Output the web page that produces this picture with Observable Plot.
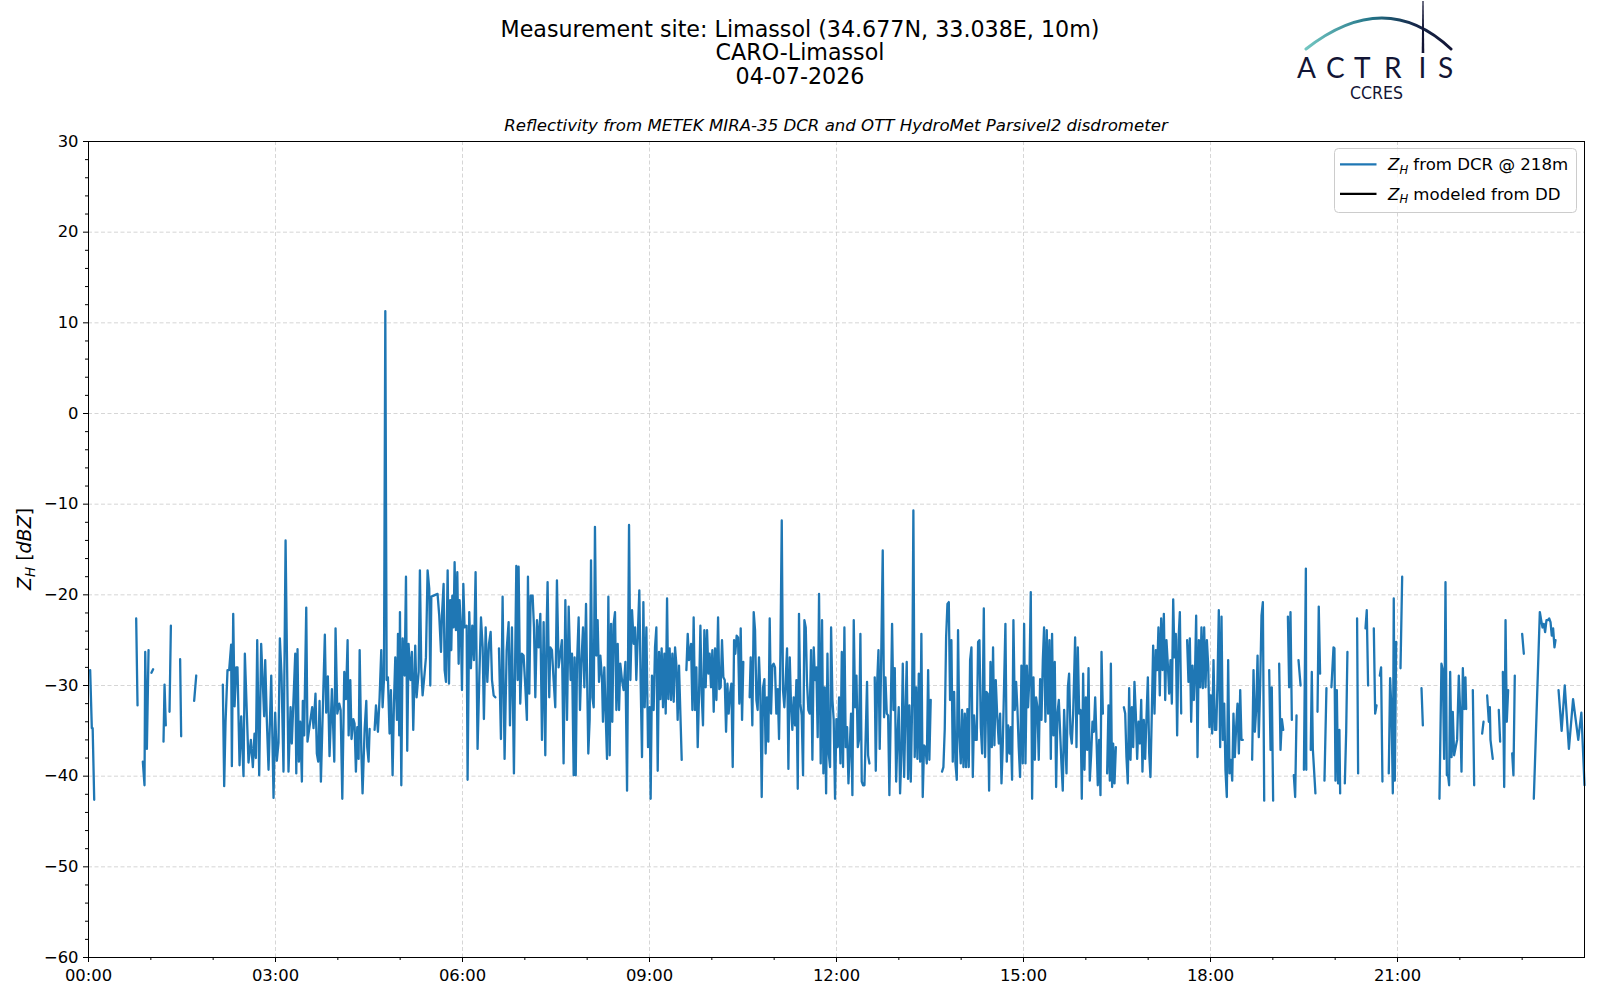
<!DOCTYPE html>
<html><head><meta charset="utf-8">
<script src="https://cdn.jsdelivr.net/npm/d3@7"></script>
<script src="https://cdn.jsdelivr.net/npm/@observablehq/plot@0.6"></script>
<style>
html,body{margin:0;padding:0;background:#fff;}
#fig{position:relative;width:1600px;height:1000px;overflow:hidden;font-family:"DejaVu Sans",sans-serif;}
#fig svg.overlay{position:absolute;left:0;top:0;pointer-events:none;}
#fig svg.chart{position:absolute;left:0;top:0;}
</style></head><body><div id="fig"></div>
<script>
// ---------------- data ----------------
const titleLines = ["Measurement site: Limassol (34.677N, 33.038E, 10m)", "CARO-Limassol", "04-07-2026"];
const subtitle = "Reflectivity from METEK MIRA-35 DCR and OTT HydroMet Parsivel2 disdrometer";
const legendRest = [" from DCR @ 218m", " modeled from DD"];
const xMajorTicks = [0, 180, 360, 540, 720, 900, 1080, 1260];
const xTickLabels = ["00:00", "03:00", "06:00", "09:00", "12:00", "15:00", "18:00", "21:00"];
const xMinorTicks = [60, 120, 240, 300, 420, 480, 600, 660, 780, 840, 960, 1020, 1140, 1200, 1320, 1380];
const yMajorTicks = [-60, -50, -40, -30, -20, -10, 0, 10, 20, 30];
const yMinorTicks = [-58,-56,-54,-52,-48,-46,-44,-42,-38,-36,-34,-32,-28,-26,-24,-22,-18,-16,-14,-12,-8,-6,-4,-2,2,4,6,8,12,14,16,18,22,24,26,28];
// DCR reflectivity samples: [minutes since 00:00, dBZ]; null = gap in the record
const dcrSamples = [
[1.6,-28.3],[3.2,-34.7],[4,-34.7],[5.5,-42.6],null,
[45.9,-22.6],[47.2,-32.2],null,
[52.3,-38.4],[53.9,-41],[54.6,-26.3],[56.2,-37],[57.8,-26.1],null,
[60.6,-28.6],[62.2,-28.2],null,
[72.2,-36.2],[73.2,-29.9],[74.4,-34.4],null,
[78,-32.9],[79.3,-23.4],null,
[88.2,-27.1],[89.2,-35.6],null,
[101.7,-31.7],[103.7,-28.9],null,
[129.3,-29.9],[130.6,-41.1],[131.9,-34.1],[133.8,-28.3],[135.4,-28.3],[137.3,-25.5],[138,-38.9],[139.3,-22.1],[140.6,-32.3],[142.2,-28],[143.4,-28],[145.4,-38.8],[147,-33.4],[149.2,-40],[150.5,-26.5],[154,-38.5],[156.3,-36],[158.2,-39],[159.8,-35.3],[161.1,-38],[162.4,-25],[164.3,-39.9],[166.2,-25.4],[169.1,-33.4],[170.1,-27.2],[171.7,-34],[173.3,-39.3],[175.9,-28.9],[178.1,-42.4],[179.7,-33],[181.3,-38.3],[182.9,-36.3],[184.2,-24.8],[185.8,-28.9],[187.7,-39.5],[189.7,-14],[191,-26.5],[192.5,-39.5],[194.5,-32.4],[195.7,-36.4],[199,-26.5],[200,-39.7],[201.2,-26],[202.5,-38.4],[203.8,-34],[205.4,-40.6],[206.3,-31.7],[207.6,-35.5],[209.6,-21.4],[210.8,-36.2],[215.3,-32.4],[216.6,-34.7],[218.5,-30.9],[219.8,-37.5],[221.1,-38.4],[222.4,-31.7],[223.7,-40.6],[225,-35],[227.5,-24.4],[228.8,-33],[230.4,-29],[232,-37.8],
[234.3,-30.4],[236.6,-38.4],[237.8,-23.7],[239.5,-33.1],[241.4,-32],[242.7,-32.7],[244.3,-42.5],[246.2,-28.5],[247.8,-31.5],[249.4,-25],[250.4,-35.5],[252,-29.4],[253.2,-35.9],[254.9,-33.7],[256.1,-34.2],[257.4,-39.5],[258.7,-34.6],[260,-38.1],[261,-26.1],[262.6,-37.2],[263.8,-41.9],[265.8,-34.8],[267.4,-31.7],[268.3,-36.8],[269.6,-38.4],[270.6,-34.8],null,
[275.4,-34.9],[276.7,-32.2],[278.6,-35.1],[280.2,-31.3],[281.8,-26.1],[283.1,-32.4],[284.4,-29.4],[285.7,11.3],[287,-29.4],[288.2,-29.1],[289.8,-35.3],[291.1,-30.5],[292.7,-39.9],[294,-32],[295.3,-26.9],[296.9,-33.8],[297.9,-24.3],[299.1,-35.5],[299.8,-21.9],[301.1,-41],[302.4,-24.8],[304.3,-28.9],[305.6,-18],[306.8,-37.2],[308.1,-25.4],[310,-29.4],[311.3,-26.3],[312.6,-34.9],[314.5,-25.6],[315.8,-31.3],[317.8,-28.5],[319,-17.3],[320.3,-28],[321.6,-31.1],[323.5,-28.7],[324.8,-26.9],[326.4,-17.3],[328,-19.3],[329,-30],[330,-20.2],[336,-19.9],[337.6,-22.3],[339.3,-26.3],[340.2,-22.3],[341.8,-18.8],[342.8,-28.3],[344.1,-29.6],[345.7,-17.3],[347,-29.8],[348.2,-20.6],[349.2,-26.1],[350.2,-20.1],[351.4,-23.6],[352.4,-16.4],[353.7,-23.9],[355,-17.5],[356.3,-27.6],[357.2,-20.6],[358.5,-23.9],[359.5,-30.5],[360.8,-18.8],[362,-23.6],[364,-23.4],[364.9,-40.4],[366.5,-21.9],[368.1,-28.1],[369.4,-23.4],[371,-27.2],[372.6,-17.5],[374.5,-37],[376.2,-29.1],[377.8,-22.5],[379.4,-25.8],[380.6,-33.7],[382.3,-23.6],[383.9,-29.6],[385.5,-25.4],[387.1,-24.1],[388.4,-29.4],[390,-31.1],[391.6,-31.3],null,
[395.1,-25.9],[397,-35.9],[398.6,-20.2],[400.5,-38.1],[402.5,-26.1],[404.4,-23],[405.7,-34.4],[407.6,-23.6],[409.5,-39.7],[410.8,-26.1],[411.8,-16.8],[413.1,-29.4],[414,-16.9],[415.6,-32],[417.2,-26.5],[418.8,-26.7],[420.4,-30],[422,-33.8],[423,-18],[424.3,-30.9],[425.6,-20.1],[427.5,-20.1],[428.8,-23.6],[430.1,-31.3],[431.7,-22.8],[433.3,-25.8],[434.9,-22.1],[436.5,-36],[438.1,-23],[439.7,-37.7],[441,-23.6],[441.9,-18.6],[443.5,-31.3],[444.5,-25.8],[446.1,-26.1],[447.7,-29.4],[449.3,-32.4],[450.9,-18.4],[452.5,-28],[455.7,-25],[457.3,-38.6],[459,-20.6],[460.6,-33.8],[462.2,-21.3],[464.1,-29.4],[465.4,-26.5],[467,-39.9],[467.9,-26.9],
[469,-39.9],[470.2,-27.6],[471.8,-22.5],[473.1,-32.7],[474.4,-27.6],[476,-23.6],[477.3,-30.2],[478.9,-21],[479.8,-28],[481.1,-37.5],[482.4,-33.8],[483.7,-16.2],[485,-31.3],[486.3,-32.4],[487.5,-12.5],[488.8,-26.7],[490.1,-22.8],[491.4,-29.6],[492.7,-26.7],[494.3,-29.3],[495.2,-34],[496.5,-28],[497.8,-33.1],[499.1,-38.1],[500.4,-20.2],[501.7,-37.7],[503,-23.2],[504.2,-34],[505.5,-23.2],[506.8,-21.9],[508.1,-32.7],[509.4,-25.4],[510.7,-32.7],[511.9,-27.6],[513.5,-29.4],[515.1,-30.5],[516.8,-27.4],[518.4,-41.6],[520.3,-12.3],[521.6,-29.4],[523.2,-21.7],[524.8,-25.4],[526.1,-23.6],[527.3,-29.4],[529,-23.6],[530.2,-19.5],[531.5,-29.8],[532.8,-37.9],[534.1,-20.8],[535.4,-32.4],[537,-23.6],[538.6,-36.8],[540.2,-32.4],[541.1,-42.5],[542.4,-28.9],[544,-32.7],[545.3,-25.8],[546.6,-23.6],[547.9,-39.4],[549.2,-26.3],[550.4,-31.5],[551.7,-25.9],[553,-32.4],[554.3,-26.5],[555.6,-33.1],[556.9,-20.4],[558.1,-31.5],[559.4,-25.9],[560.7,-31.6],[562,-26.5],[563.3,-31.8],[564.6,-25.8],[565.8,-27.6],[567.1,-33.8],[568.4,-27.8],[571,-38.2],null,
[575.5,-28.3],[576.8,-24.3],[578,-27.2],[580,-25.4],[581.3,-32.7],[582.5,-22.5],[583.8,-32.7],[585.1,-28],[586.4,-36.8],[587.7,-30.9],[589,-23.4],[590.2,-30.9],[591.5,-34.4],[592.8,-23.9],[594.1,-30.2],[595.4,-23.9],[596.7,-28.7],[597.9,-26.5],[599.2,-30.2],[600.5,-26.1],[601.8,-32.9],[603.1,-25.9],[604.4,-31.6],[606,-22.5],[607.2,-30.4],[608.5,-30.2],[609.8,-25],[611.1,-29.1],[612.4,-29.4],[613.7,-35.1],[615,-29.8],[616.2,-33.1],[617.5,-30.9],[618.8,-29.8],[620.1,-39],[621.4,-25],[622.6,-26.5],[623.9,-24.5],[625.2,-24.7],[626.5,-32],[627.8,-23.7],[629.1,-33.8],[630.3,-27.4],null,
[636.4,-31.3],[637.4,-26.9],[639,-34.4],[640.3,-21.9],[641.6,-23.9],[642.9,-31.6],[644.1,-32.7],[645.4,-26.9],[646.7,-30.9],[648,-42.3],[649.3,-30.2],[650.6,-29.3],[651.8,-37.5],[653.1,-31.3],[654.4,-36.2],[655.7,-22.6],[657,-33.1],[658.3,-27.8],[659.5,-27.6],[660.8,-28],[662.1,-33.1],[663.4,-30.4],[664.7,-35.9],[666,-26.5],[667.3,-11.8],[668.5,-30.5],[669.8,-32.4],[671.1,-29.3],[672.4,-25.9],[673.7,-39.2],[675,-26.9],[676.2,-32],[677.5,-34.9],[678.8,-31.3],[680.1,-34.4],[681.4,-29.4],[682.7,-41.4],[683.9,-22.1],[685.2,-32],[686.5,-33.3],[687.8,-39.9],[689.1,-22.8],[690.4,-23.6],[691.6,-29.6],[692.9,-32.7],[694.2,-33.1],[695.5,-26.1],[696.8,-38.2],[698.1,-25.8],[699.3,-29.4],[700.6,-28],[701.9,-35.7],[703.2,-19.9],
[704.8,-38.6],[706.1,-22.8],[707.4,-39.7],[708.7,-30.2],[710,-41.9],[711.3,-26.5],[712.5,-37.5],[713.8,-39],[714.8,-23.6],[716.1,-31.6],[717.3,-33.8],[718.6,-42.5],[719.9,-33.7],[721.2,-36.8],[722.5,-31.3],[723.8,-38.6],[725.1,-26.3],[726.3,-39],[727.6,-23.6],[728.9,-36.8],[730.2,-34.6],[731.5,-40.8],[732.8,-36.8],[734,-33.1],[735.3,-42.1],[736.6,-22.8],[737.9,-32.4],[739.2,-28.9],[740.5,-36.8],[741.7,-36],[743,-24.3],[744.3,-40.6],[745.6,-41],[746.9,-41],[749.4,-29.6],[750.4,-37.7],[751.7,-38.6],null,
[756.8,-29.1],[757.8,-39.4],[759.1,-29.8],[760.4,-26.1],[761.6,-37],[762.9,-28],[764.5,-15.1],[765.8,-33.5],[767.1,-29.1],[768.4,-33.1],[769.7,-33.3],[770.9,-42.1],[772.2,-33.1],[773.5,-23.2],[774.8,-32.7],[776.1,-28.1],[777.4,-40.6],[778.6,-36],[779.9,-32.4],[781.2,-41.9],[782.5,-37.5],[783.8,-27.6],[785.1,-40.1],[786.3,-33.3],[787.6,-27.4],[788.9,-40.3],[790.2,-32.2],[791.5,-40.6],[792.8,-32.2],[794,-10.7],[795.3,-37.9],[796.6,-30.2],[797.9,-38.1],[799.2,-28.7],[800.5,-38.4],[801.7,-24.3],[803,-42.3],[804.3,-36.6],[805.6,-36.8],[806.9,-38.6],[808.2,-28.3],[809.4,-38.2],[810.7,-31.6],null,
[821.6,-39.5],[822.9,-39],[824.2,-34.8],[825.5,-24.7],[826.8,-21],[828.1,-20.8],[829.3,-31.6],[830.6,-25],[831.9,-38.4],[833.2,-30.7],[834.5,-38.6],[835.8,-40.4],[837,-23.9],[838.3,-35.5],[839.6,-38.6],[840.9,-32.7],[842.2,-39],[843.5,-33.1],[844.7,-39],[846,-32.6],[847.3,-39],[848.6,-27.2],[849.9,-25.8],[851.2,-40.1],[852.4,-33.3],[853.7,-36],[855,-36],[856.3,-25.2],[857.6,-25],[858.9,-34.6],[860.2,-37.5],[861.8,-21.5],[863,-37.9],[864.3,-30.7],[865.6,-30.9],[866.9,-41.6],[868.2,-27.4],[869.5,-36.8],[870.7,-25.8],[872,-36.6],[873.3,-29.4],[874.6,-33.1],[876.2,-36.4],[877.5,-33.1],[878.8,-40.8],[880,-36.8],[881.3,-30],[882.6,-23.2],[883.9,-38.4],[885.2,-34.4],[886.5,-37.5],[887.7,-34.6],[889,-40.4],[890.3,-22.8],[891.6,-32.7],[892.9,-29.6],[894.2,-32.7],[895.4,-36.8],[896.7,-40.1],[898,-27.8],[899.3,-38.6],[900.6,-23.2],[901.9,-38.6],[903.2,-27.8],[904.4,-32.4],[905.7,-29.1],[907,-19.7],[908.3,-42.5],[909.6,-29.1],[910.9,-38.2],[912.1,-31.3],[913.4,-32.4],[914.7,-38.2],[916,-29.3],[917.3,-33.8],[918.6,-27.2],[919.8,-23.6],[921.1,-34],[922.4,-23.9],[923.7,-33.1],[925,-25],[926.3,-38.1],[927.5,-24.3],[928.8,-35.5],[930.1,-27.4],[931.4,-41.2],[932.7,-33.1],[934,-31.6],[936.5,-38.6],[937.8,-41.6],[939.1,-32.7],
[941.4,-39.7],[942.7,-30.2],[943.9,-28.7],[945.2,-35.3],[946.5,-36.4],[947.8,-33.1],[949.7,-24.7],[951,-36.8],[952.3,-25.8],[953.6,-33.1],[954.9,-32.7],[956.1,-42.5],[957.4,-28.7],[958.7,-39.3],[960,-31.3],[961.3,-37.1],[962.6,-28.1],[963.8,-40.5],[965.1,-37.7],[966.4,-34],[967.7,-35.1],[969,-31.3],[970.3,-36],[971.5,-41],[972.8,-36],[974.1,-42.1],[975.1,-26.3],[976.4,-33.1],null,
[980.5,-39.7],[981.8,-32.2],[983.1,-40.5],[984.1,-27.6],[985.3,-41.2],[986.3,-36.4],[987.6,-40.8],[988.9,-36.8],null,
[996.6,-32.4],[997.9,-33.1],[999.1,-37.9],[1000.4,-40.8],[1001.7,-30.3],[1003,-38.2],[1004.3,-32.4],[1005.6,-36.8],[1006.8,-29.6],[1008.1,-33.1],[1009.4,-38.1],[1010.7,-34],[1012,-36.4],[1013.3,-31.6],[1014.5,-39.5],[1015.8,-33.8],[1017.1,-38.1],[1018.4,-33.5],[1019.7,-29.1],[1021,-37.5],[1022.2,-40.1],[1023.5,-33.1],[1024.8,-25.6],[1026.1,-33.1],[1027.4,-26.1],[1028.7,-28.3],[1029.9,-23.6],[1031.2,-31.1],[1032.5,-22.6],[1033.8,-28.3],[1035.1,-22.1],[1036.4,-31.6],[1037.6,-25],[1038.9,-27.6],[1040.2,-30.9],[1041.5,-27.2],[1042.8,-32],[1044.1,-20.5],[1045.3,-26.9],[1046.6,-24.3],[1047.9,-35.5],[1049.2,-25],[1050.5,-21.9],[1051.8,-33.1],null,
[1057.5,-25],[1058.8,-29.6],[1060.1,-24.8],[1061.4,-34],[1062.7,-27.8],[1064,-31.6],[1065.2,-28],[1066.2,-22.3],[1067.5,-37.9],[1068.8,-25],[1070.1,-30.2],[1071.3,-23.6],[1072.6,-30.3],[1073.9,-23.6],[1075.2,-30.2],[1076.5,-25],[1077.8,-27.8],[1079,-34.6],[1080.3,-31.1],[1081.6,-35.3],[1082.9,-27.2],[1084.2,-34.9],[1085.5,-34.9],[1086.7,-29.8],[1088,-21.7],[1089.3,-36.8],[1090.6,-22.4],[1091.9,-36],[1093.2,-32],[1094.4,-39.3],[1095.7,-42.3],[1097,-27.2],[1098.3,-39.7],[1099.6,-38.2],[1100.9,-40.5],[1102.1,-33.1],[1103.4,-37.9],[1104.7,-34.6],[1106,-32],[1107.3,-37.5],[1108.6,-30.5],[1109.8,-36],[1111.1,-36],null,
[1120.1,-38.2],[1121.4,-28.3],[1122.7,-35.1],[1124,-32.6],[1125.3,-26.7],[1126.5,-35.7],[1127.8,-30],[1129.1,-22.3],[1130.4,-20.8],[1131.7,-42.7],null,
[1136.5,-28.3],[1137.8,-37.1],[1139,-30.2],[1140.3,-42.7],null,
[1146.1,-27.6],[1147.4,-37.1],[1148.7,-33.7],[1150,-34.9],null,
[1154.5,-22.4],[1155.7,-30.2],[1157,-21.9],[1158.3,-33.8],null,
[1160.2,-39.9],[1161.5,-42.3],[1162.8,-33.3],null,
[1164.7,-27.2],[1166.7,-30],null,
[1169.9,-39.3],[1171.8,-17.1],[1172.2,-39.3],null,
[1176.5,-37.1],[1177.5,-28.5],[1178.5,-37],[1181,-41.9],null,
[1183,-32.9],[1184.2,-21.3],[1185.5,-28.7],null,
[1189.7,-40.5],[1191.6,-30.3],null,
[1196.4,-30.2],[1198.4,-25.8],[1199.3,-25.9],[1200.3,-40.5],[1201.6,-30.5],[1202.8,-40.8],[1204.1,-34.9],[1204.8,-41.9],null,
[1209.3,-40.8],[1210.6,-35.1],[1211.8,-26.3],null,
[1221.1,-22.6],[1222.1,-39.7],null,
[1229.2,-23.7],[1230.4,-21.7],[1231.7,-30],null,
[1237.2,-23.7],[1238.5,-33.1],[1239.8,-32.2],null,
[1243,-28.9],[1244.2,-28],[1245.5,-40.6],null,
[1251.6,-39.7],[1252.9,-29.2],[1254.2,-32.7],[1255.5,-41.9],[1256.4,-20.4],[1257.4,-40.5],[1258.7,-25.2],null,
[1262.9,-28.1],[1264.5,-18],null,
[1283.1,-30.3],[1284.4,-34.4],null,
[1300.4,-42.5],[1302.3,-27.6],[1303.6,-28.3],[1304.9,-38.1],[1306.2,-18.6],[1307.5,-39.9],[1308.7,-39.9],[1309.7,-41],[1310.7,-28.5],[1312,-37.9],[1313.2,-32.9],[1314.5,-37.7],[1317.4,-36],[1319,-28.9],[1320.3,-32.7],[1321.6,-39.5],[1322.9,-28.1],[1324.2,-32.6],[1325.4,-29.1],[1326.1,-32.6],null,
[1332.5,-30.5],[1333.8,-41],null,
[1341.5,-35.3],[1342.8,-34],null,
[1346.3,-31.1],[1347.9,-34],[1348.9,-32.4],[1349.5,-36],[1351.7,-38.1],null,
[1357.5,-32.7],[1358.8,-36.2],null,
[1361.4,-28.5],[1362.7,-41.2],[1364,-22.8],[1365.2,-34],[1366.5,-30.5],null,
[1370.4,-37.5],[1371.6,-39.9],[1372.9,-28.9],null,
[1380,-24.3],[1381.6,-26.5],null,
[1391.2,-42.5],[1397,-21.9],[1398.3,-22.8],[1399.6,-23.6],[1400.8,-23.2],[1402.1,-24.1],[1403.4,-22.8],[1404.7,-22.8],[1406,-22.6],[1407.3,-23],[1408.5,-24.5],[1409.8,-23.7],[1411.1,-25.8],[1412.1,-25],null,
[1415,-30.5],[1418,-35],[1421,-30],[1425,-37],[1429,-31.5],[1434,-36],[1437,-33],[1440,-41]
];

// ---------------- chart ----------------
const W = 1600, H = 1000;
const M = {left: 88, right: 16, top: 141, bottom: 43};
const blue = "#1f77b4";
const gridStyle = {stroke: "#cccccc", strokeOpacity: 1, strokeWidth: 0.8, strokeDasharray: "4,2.5"};
const points = dcrSamples.map(p => p ? {t: p[0], z: p[1]} : {t: NaN, z: NaN});
const hm = d => xTickLabels[xMajorTicks.indexOf(d)];
const minusFmt = d => d < 0 ? "\u2212" + Math.abs(d) : String(d);

const chart = Plot.plot({
  width: W, height: H,
  marginLeft: M.left, marginRight: M.right, marginTop: M.top, marginBottom: M.bottom,
  style: {fontFamily: '"DejaVu Sans", sans-serif', fontSize: "16.4px", color: "black", background: "transparent"},
  x: {type: "linear", domain: [0, 1440]},
  y: {type: "linear", domain: [-60, 30]},
  marks: [
    Plot.gridX(xMajorTicks, gridStyle),
    Plot.gridY(yMajorTicks, gridStyle),
    Plot.line(points, {x: "t", y: "z", stroke: blue, strokeWidth: 2.3, strokeLinejoin: "round"}),
    Plot.frame({stroke: "black", strokeWidth: 1}),
    Plot.axisX(xMajorTicks, {tickSize: 5, tickPadding: 7, tickFormat: hm, label: null, stroke: "black"}),
    Plot.axisX(xMinorTicks, {tickSize: 3, tickFormat: () => "", label: null, stroke: "black"}),
    Plot.axisY(yMajorTicks, {tickSize: 5, tickPadding: 5, tickFormat: minusFmt, label: null, stroke: "black"}),
    Plot.axisY(yMinorTicks, {tickSize: 3, tickFormat: () => "", label: null, stroke: "black"})
  ]
});
chart.classList.add("chart");
const fig = document.getElementById("fig");
fig.appendChild(chart);

// ---------------- overlay: titles, y label, legend, logo ----------------
const ns = "http://www.w3.org/2000/svg";
const ov = d3.select(fig).append("svg").attr("class", "overlay")
  .attr("width", W).attr("height", H).attr("xmlns", ns)
  .style("font-family", '"DejaVu Sans", sans-serif');

const titleY = [28.6, 52, 75.5];
ov.selectAll("text.title").data(titleLines).join("text").attr("class", "title")
  .attr("x", 800).attr("y", (d, i) => titleY[i])
  .attr("text-anchor", "middle").attr("dominant-baseline", "central")
  .attr("font-size", 22.2).attr("fill", "black").text(d => d);

ov.append("text").attr("x", (M.left + W - M.right) / 2).attr("y", 125.5)
  .attr("text-anchor", "middle").attr("dominant-baseline", "central")
  .attr("font-size", 16.6).attr("font-style", "italic").attr("fill", "black").text(subtitle);

// y label  Z_H [dBZ]
const yl = ov.append("text").attr("transform", "translate(31,549) rotate(-90)")
  .attr("text-anchor", "middle").attr("font-size", 19).attr("fill", "black");
yl.append("tspan").attr("font-style", "italic").text("Z");
yl.append("tspan").attr("font-style", "italic").attr("font-size", 13.5).attr("dy", 4).text("H");
yl.append("tspan").attr("dy", -4).text(" [");
yl.append("tspan").attr("font-style", "italic").text("dBZ");
yl.append("tspan").text("]");

// legend
const lg = ov.append("g");
lg.append("rect").attr("x", 1334.5).attr("y", 148.5).attr("width", 242).attr("height", 64)
  .attr("rx", 4).attr("fill", "white").attr("fill-opacity", 0.8).attr("stroke", "#cccccc").attr("stroke-width", 1);
const legendColors = [blue, "black"];
const legendY = [164.3, 193.8];
legendRest.forEach((rest, i) => {
  lg.append("line").attr("x1", 1340).attr("x2", 1376.5).attr("y1", legendY[i]).attr("y2", legendY[i])
    .attr("stroke", legendColors[i]).attr("stroke-width", 2.3);
  const t = lg.append("text").attr("x", 1388).attr("y", legendY[i] + 5.8)
    .attr("font-size", 16.6).attr("fill", "black");
  t.append("tspan").attr("font-style", "italic").text("Z");
  t.append("tspan").attr("font-style", "italic").attr("font-size", 11.6).attr("dy", 3.5).text("H");
  t.append("tspan").attr("dy", -3.5).text(rest);
});

// logo (ACTRIS / CCRES)
const defs = ov.append("defs");
const gr = defs.append("linearGradient").attr("id", "arcg").attr("gradientUnits", "userSpaceOnUse")
  .attr("x1", 1306).attr("y1", 0).attr("x2", 1451).attr("y2", 0);
gr.append("stop").attr("offset", 0).attr("stop-color", "#72c6c1");
gr.append("stop").attr("offset", 0.45).attr("stop-color", "#237488");
gr.append("stop").attr("offset", 0.75).attr("stop-color", "#16284a");
gr.append("stop").attr("offset", 1).attr("stop-color", "#121535");
ov.append("path").attr("d", "M1306,49 Q1385,-13 1451,49").attr("fill", "none")
  .attr("stroke", "url(#arcg)").attr("stroke-width", 3).attr("stroke-linecap", "round");
ov.append("path").attr("d", "M1422.4,1 L1423.6,1 L1424.3,53 L1421.7,53 Z").attr("fill", "#121535");
const logoLetters = ["A", "C", "T", "R", "I", "S"];
const letterX = [1297, 1326, 1354, 1384, 1418.5, 1438];
ov.selectAll("text.logo").data(logoLetters).join("text").attr("class", "logo")
  .attr("x", (d, i) => letterX[i]).attr("y", 77.5)
  .attr("font-family", "Lato, 'Open Sans', sans-serif").attr("font-weight", 400)
  .attr("font-size", 28).attr("fill", "#121535").text(d => d);
ov.append("text").attr("x", 1350).attr("y", 99).attr("textLength", 53).attr("lengthAdjust", "spacingAndGlyphs")
  .attr("font-family", "'DejaVu Sans Condensed', 'DejaVu Sans', sans-serif").attr("font-size", 17.5)
  .attr("fill", "#121535").text("CCRES");
</script></body></html>
